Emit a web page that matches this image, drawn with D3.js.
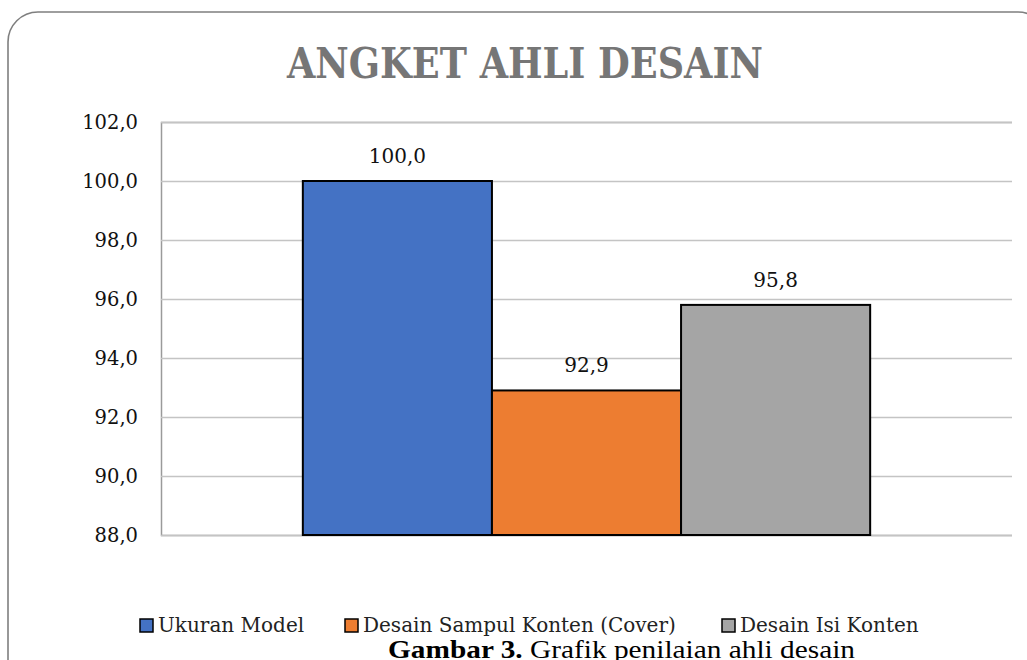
<!DOCTYPE html>
<html><head><meta charset="utf-8">
<script src="https://cdn.jsdelivr.net/npm/d3@7"></script>
<style>body{margin:0;background:#fff}svg{display:block}</style>
</head><body><svg id="c" width="1027" height="660"></svg>
<script>
const title = "ANGKET AHLI DESAIN";
const series = ["Ukuran Model", "Desain Sampul Konten (Cover)", "Desain Isi Konten"];
const values = [100.0, 92.9, 95.8];
const colors = ["#4472c4", "#ed7d31", "#a5a5a5"];
const yTicks = [88, 90, 92, 94, 96, 98, 100, 102];
const captionBold = "Gambar 3.";
const captionText = " Grafik penilaian ahli desain";

(function () {
const svg = d3.select("#c");
const fmt = v => v.toFixed(1).replace(".", ",");
const serif = "'DejaVu Serif', serif";

// border
svg.append("rect").attr("x", 8).attr("y", 12).attr("width", 1040).attr("height", 700)
  .attr("rx", 30).attr("fill", "#fff").attr("stroke", "#7f7f7f").attr("stroke-width", 1.6);

// title
svg.append("text").attr("x", 525).attr("y", 78).attr("text-anchor", "middle")
  .attr("font-family", serif).attr("font-weight", "bold").attr("font-size", 43)
  .attr("fill", "#767676").attr("textLength", 476).attr("lengthAdjust", "spacingAndGlyphs")
  .text(title);

const pL = 161, pR = 1012, pT = 122, pB = 535;
const y = d3.scaleLinear().domain([88, 102]).range([pB, pT]);
// group occupies 2/3 of plot width (gap width 50%)
const groupW = (pR - pL) / 1.5;
const gx = (pL + pR) / 2 - groupW / 2;
const x1 = d3.scaleBand().domain(series).range([gx, gx + groupW]).padding(0);

// gridlines + axis
const yAxis = d3.axisLeft(y).tickValues(yTicks).tickSize(-(pR - pL)).tickFormat(fmt).tickPadding(23);
const ga = svg.append("g").attr("transform", `translate(${pL},0)`).call(yAxis);
ga.select(".domain").attr("stroke", "#9a9a9a").attr("stroke-width", 1.5);
ga.selectAll(".tick line").attr("stroke", "#c4c4c4").attr("stroke-width", 1.5);
ga.selectAll(".tick text").attr("font-family", serif).attr("font-size", 19.5).attr("fill", "#111");

// bars
svg.append("g").selectAll("rect").data(values).join("rect")
  .attr("x", (d, i) => x1(series[i]))
  .attr("y", d => y(d))
  .attr("width", x1.bandwidth())
  .attr("height", d => y(88) - y(d))
  .attr("fill", (d, i) => colors[i])
  .attr("stroke", "#000").attr("stroke-width", 2);

// labels
svg.append("g").selectAll("text").data(values).join("text")
  .attr("x", (d, i) => x1(series[i]) + x1.bandwidth() / 2)
  .attr("y", d => y(d) - 18)
  .attr("text-anchor", "middle").attr("font-family", serif).attr("font-size", 20).attr("fill", "#111")
  .text(fmt);

// legend
const legX = [140, 345, 722];
const lg = svg.append("g").selectAll("g").data(series).join("g")
  .attr("transform", (d, i) => `translate(${legX[i]},619)`);
lg.append("rect").attr("width", 13).attr("height", 13)
  .attr("fill", (d, i) => colors[i]).attr("stroke", "#000").attr("stroke-width", 1.5);
lg.append("text").attr("x", 18).attr("y", 13).attr("font-family", serif).attr("font-size", 20)
  .attr("fill", "#222").text(d => d);

// caption
const cap = svg.append("text").attr("x", 388).attr("y", 658)
  .attr("font-family", "'Liberation Serif', serif").attr("font-size", 25).attr("fill", "#000")
  .attr("textLength", 467).attr("lengthAdjust", "spacingAndGlyphs");
cap.append("tspan").attr("font-weight", "bold").text(captionBold);
cap.append("tspan").text(captionText);
})();
</script></body></html>
